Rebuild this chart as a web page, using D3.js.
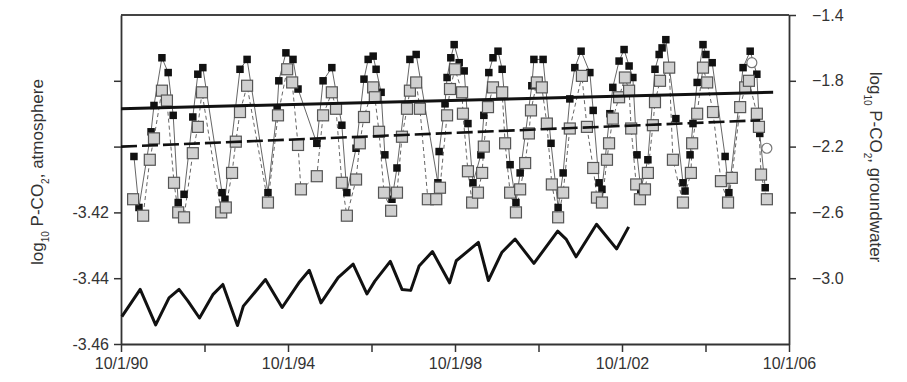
<!DOCTYPE html>
<html>
<head>
<meta charset="utf-8">
<script src="https://cdn.jsdelivr.net/npm/d3@7"></script>
<style>
  body { margin: 0; background: #fff; }
  text { font-family: "Liberation Sans", Arial, sans-serif; fill: #333; }
</style>
</head>
<body>
<svg id="chart" width="907" height="382"></svg>
<script>
// groundwater P-CO2, filled black squares (right axis) [decimal year, log10 value]
const measured = [
  [1991.06, -2.26], [1991.18, -2.57], [1991.47, -2.11], [1991.54, -1.95], [1991.73, -1.66],
  [1991.88, -1.75], [1992.00, -2.01], [1992.12, -2.54], [1992.26, -2.49], [1992.47, -2.02],
  [1992.59, -1.76], [1992.71, -1.72], [1993.17, -2.48], [1993.24, -2.52], [1993.60, -1.73],
  [1993.77, -1.67], [1994.27, -2.48], [1994.49, -1.97], [1994.53, -1.80], [1994.70, -1.63],
  [1994.87, -1.67], [1994.99, -1.85], [1995.44, -2.18], [1995.59, -1.80], [1995.80, -1.72],
  [1996.04, -2.07], [1996.16, -2.48], [1996.38, -2.21], [1996.57, -1.79], [1996.67, -1.67],
  [1996.79, -1.65], [1996.86, -1.73], [1996.98, -1.87], [1997.07, -2.25], [1997.24, -2.52],
  [1997.36, -2.33], [1997.67, -1.67], [1997.82, -1.64], [1998.34, -2.42], [1998.37, -2.23],
  [1998.51, -1.94], [1998.56, -1.78], [1998.65, -1.66], [1998.73, -1.58], [1998.85, -1.69],
  [1998.97, -1.74], [1999.06, -2.06], [1999.18, -2.42], [1999.37, -2.25], [1999.44, -2.01],
  [1999.56, -1.75], [1999.66, -1.66], [1999.78, -1.62], [1999.88, -1.73], [2000.07, -2.31],
  [2000.21, -2.54], [2000.31, -2.36], [2000.59, -1.83], [2000.64, -1.67], [2000.86, -1.67],
  [2001.05, -2.18], [2001.22, -2.57], [2001.34, -2.36], [2001.50, -1.91], [2001.62, -1.72],
  [2001.77, -1.62], [2001.98, -1.75], [2002.06, -1.98], [2002.20, -2.42], [2002.27, -2.46],
  [2002.46, -2.00], [2002.53, -1.84], [2002.68, -1.68], [2002.80, -1.61], [2002.92, -1.71],
  [2003.01, -1.78], [2003.11, -2.25], [2003.20, -2.46], [2003.37, -2.28], [2003.54, -1.73],
  [2003.64, -1.64], [2003.71, -1.60], [2003.80, -1.55], [2004.04, -2.03], [2004.21, -2.42],
  [2004.26, -2.47], [2004.38, -2.25], [2004.45, -2.06], [2004.55, -1.81], [2004.69, -1.58],
  [2004.76, -1.64], [2004.91, -1.69], [2005.22, -2.26], [2005.31, -2.48], [2005.65, -1.72],
  [2005.82, -1.62], [2005.98, -1.76], [2006.05, -2.12], [2006.18, -2.45]
];

// groundwater P-CO2, gray squares (right axis)
const modeled = [
  [1991.04, -2.52], [1991.28, -2.62], [1991.44, -2.28], [1991.54, -2.15], [1991.73, -1.86],
  [1991.85, -1.92], [1992.02, -2.42], [1992.12, -2.60], [1992.26, -2.63], [1992.47, -2.24],
  [1992.59, -2.08], [1992.69, -1.87], [1993.15, -2.60], [1993.26, -2.57], [1993.41, -2.36],
  [1993.50, -2.17], [1993.60, -1.99], [1993.77, -1.83], [1994.27, -2.54], [1994.51, -2.01],
  [1994.73, -1.73], [1994.85, -1.81], [1994.99, -2.19], [1995.06, -2.46], [1995.44, -2.38],
  [1995.59, -2.01], [1995.80, -1.87], [1995.90, -1.97], [1996.04, -2.42], [1996.16, -2.62],
  [1996.38, -2.40], [1996.47, -2.18], [1996.57, -2.02], [1996.79, -1.84], [1996.83, -1.90],
  [1996.93, -2.11], [1997.05, -2.48], [1997.22, -2.59], [1997.36, -2.48], [1997.48, -2.14],
  [1997.60, -1.97], [1997.67, -1.86], [1997.82, -1.81], [1997.91, -1.97], [1998.10, -2.52],
  [1998.30, -2.52], [1998.39, -2.45], [1998.56, -2.01], [1998.63, -1.85], [1998.75, -1.73],
  [1998.92, -1.87], [1998.94, -2.00], [1999.06, -2.35], [1999.16, -2.54], [1999.30, -2.48],
  [1999.40, -2.36], [1999.44, -2.20], [1999.54, -1.96], [1999.66, -1.84], [1999.88, -1.87],
  [1999.95, -2.18], [2000.07, -2.48], [2000.21, -2.60], [2000.31, -2.46], [2000.43, -2.30],
  [2000.52, -2.12], [2000.57, -1.98], [2000.71, -1.81], [2000.83, -1.84], [2000.95, -2.06],
  [2001.07, -2.43], [2001.22, -2.63], [2001.34, -2.48], [2001.50, -2.09], [2001.79, -1.77],
  [2001.91, -2.08], [2002.06, -2.33], [2002.15, -2.51], [2002.27, -2.54], [2002.39, -2.28],
  [2002.44, -2.18], [2002.53, -2.03], [2002.68, -1.90], [2002.82, -1.78], [2002.92, -1.86],
  [2002.97, -2.09], [2003.09, -2.43], [2003.18, -2.52], [2003.30, -2.46], [2003.37, -2.36],
  [2003.49, -2.07], [2003.54, -1.93], [2003.66, -1.80], [2003.88, -1.72], [2003.97, -2.28],
  [2004.21, -2.54], [2004.40, -2.36], [2004.43, -2.18], [2004.55, -2.00], [2004.69, -1.72],
  [2004.79, -1.81], [2004.93, -1.99], [2005.12, -2.41], [2005.29, -2.54], [2005.38, -2.39],
  [2005.58, -1.96], [2005.70, -1.84], [2005.79, -1.80], [2005.98, -2.00], [2006.03, -2.08],
  [2006.08, -2.37], [2006.22, -2.52]
];

// open circles (right axis)
const openPoints = [[2005.86, -1.69], [2006.22, -2.21]];

// linear trends (right axis): solid and dashed
const trendSolid = [[1990.75, -1.97], [2006.37, -1.87]];
const trendDashed = [[1990.75, -2.20], [2006.06, -2.04]];

// atmosphere P-CO2 (left axis)
const atmosphere = [
  [1990.77, -3.4517], [1991.21, -3.4434], [1991.58, -3.4542], [1991.90, -3.4460], [1992.14, -3.4434],
  [1992.35, -3.4469], [1992.63, -3.4521], [1992.95, -3.4450], [1993.19, -3.4419], [1993.54, -3.4544],
  [1993.68, -3.4485], [1994.21, -3.4404], [1994.61, -3.4489], [1995.01, -3.4414], [1995.26, -3.4376],
  [1995.54, -3.4475], [1995.95, -3.4398], [1996.31, -3.4357], [1996.64, -3.4448], [1996.83, -3.4409],
  [1997.20, -3.4349], [1997.48, -3.4434], [1997.69, -3.4437], [1997.89, -3.4363], [1998.21, -3.4319],
  [1998.62, -3.4414], [1998.78, -3.4347], [1999.31, -3.4291], [1999.55, -3.4407], [1999.87, -3.4322],
  [2000.19, -3.4281], [2000.64, -3.4355], [2001.21, -3.4257], [2001.41, -3.4281], [2001.65, -3.4335],
  [2002.14, -3.4236], [2002.62, -3.4311], [2002.91, -3.4244]
];

const xTicks = [1990.75, 1992.75, 1994.75, 1996.75, 1998.75, 2000.75, 2002.75, 2004.75, 2006.75];
const xTickLabels = ["10/1/90", "", "10/1/94", "", "10/1/98", "", "10/1/02", "", "10/1/06"];
const leftTicks = [-3.46, -3.44, -3.42, -3.40, -3.38];
const leftTickLabels = ["-3.46", "-3.44", "-3.42", "", ""];
const rightTicks = [-3.0, -2.6, -2.2, -1.8, -1.4];

const svg = d3.select("#chart");
const pLeft = 121, pRight = 789, pTop = 15, pBottom = 344;

const x = d3.scaleLinear().domain([1990.75, 2006.75]).range([pLeft, pRight]);
const yR = d3.scaleLinear().domain([-3.4, -1.4]).range([pBottom, pTop]);
const yL = d3.scaleLinear().domain([-3.46, -3.36]).range([pBottom, pTop]);

// frame top
svg.append("line")
    .attr("x1", pLeft).attr("x2", pRight).attr("y1", pTop).attr("y2", pTop)
    .attr("stroke", "#444").attr("stroke-width", 2.2);

const xAxis = d3.axisBottom(x).tickValues(xTicks)
    .tickFormat((d, i) => xTickLabels[i]).tickSize(8).tickSizeOuter(0).tickPadding(6);
const gx = svg.append("g").attr("transform", "translate(0," + pBottom + ")").call(xAxis);

const gl = svg.append("g").attr("transform", "translate(" + pLeft + ",0)")
    .call(d3.axisLeft(yL).tickValues(leftTicks)
      .tickFormat((d, i) => leftTickLabels[i]).tickSize(7).tickSizeOuter(0).tickPadding(5));

const gr = svg.append("g").attr("transform", "translate(" + pRight + ",0)")
    .call(d3.axisRight(yR).tickValues(rightTicks)
      .tickFormat(d3.format(".1f")).tickSize(7).tickSizeOuter(0).tickPadding(16));

[gx, gl, gr].forEach(g => {
  g.select(".domain").attr("stroke", "#333").attr("stroke-width", 1.8);
  g.selectAll(".tick line").attr("stroke", "#333").attr("stroke-width", 1.5);
  g.selectAll(".tick text").style("font-size", "16px").attr("fill", "#333")
      .style("font-family", "'Liberation Sans', Arial, sans-serif");
});

// axis titles with subscripts
function title(tx, ty, angle, word) {
  const t = svg.append("text")
      .attr("transform", "translate(" + tx + "," + ty + ") rotate(" + angle + ")")
      .attr("text-anchor", "middle")
      .style("font-size", "17px")
      .attr("fill", "#333");
  t.append("tspan").text("log");
  t.append("tspan").text("10").attr("baseline-shift", "sub").style("font-size", "10px");
  t.append("tspan").text(" P-CO");
  t.append("tspan").text("2").attr("baseline-shift", "sub").style("font-size", "10px");
  t.append("tspan").text(", " + word);
}
title(43, 172, -90, "atmosphere");
title(870, 167, 90, "groundwater");

const lineR = d3.line().x(d => x(d[0])).y(d => yR(d[1]));
const lineL = d3.line().x(d => x(d[0])).y(d => yL(d[1]));

// black series connecting line
svg.append("path").datum(measured)
    .attr("d", lineR).attr("fill", "none")
    .attr("stroke", "#555").attr("stroke-width", 0.9);

// gray series dashed connecting line
svg.append("path").datum(modeled)
    .attr("d", lineR).attr("fill", "none")
    .attr("stroke", "#666").attr("stroke-width", 1).attr("stroke-dasharray", "4,3");

svg.selectAll(".open").data(openPoints).enter().append("circle")
    .attr("class", "open")
    .attr("cx", d => x(d[0])).attr("cy", d => yR(d[1])).attr("r", 5)
    .attr("fill", "#fff").attr("stroke", "#777").attr("stroke-width", 1.2);

svg.selectAll(".blk").data(measured).enter().append("rect")
    .attr("class", "blk")
    .attr("x", d => x(d[0]) - 3.75).attr("y", d => yR(d[1]) - 3.75)
    .attr("width", 7.5).attr("height", 7.5)
    .attr("fill", "#111");

svg.selectAll(".gry").data(modeled).enter().append("rect")
    .attr("class", "gry")
    .attr("x", d => x(d[0]) - 5.5).attr("y", d => yR(d[1]) - 5.5)
    .attr("width", 11).attr("height", 11)
    .attr("fill", "#d0d0d0").attr("stroke", "#555").attr("stroke-width", 1.2);

// trend lines
svg.append("path").datum(trendSolid)
    .attr("d", lineR).attr("fill", "none")
    .attr("stroke", "#111").attr("stroke-width", 3);
svg.append("path").datum(trendDashed)
    .attr("d", lineR).attr("fill", "none")
    .attr("stroke", "#111").attr("stroke-width", 2.6).attr("stroke-dasharray", "16,5");

// atmosphere
svg.append("path").datum(atmosphere)
    .attr("d", lineL).attr("fill", "none")
    .attr("stroke", "#111").attr("stroke-width", 3).attr("stroke-linejoin", "round");
</script>
</body>
</html>
